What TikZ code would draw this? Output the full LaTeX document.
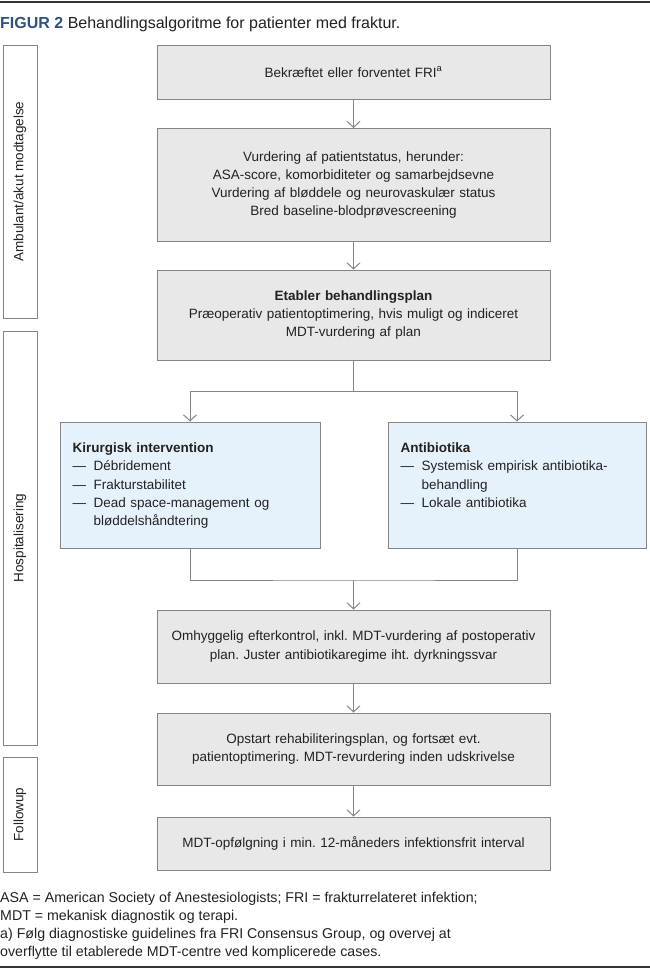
\documentclass[tikz,border=0pt]{standalone}
\usepackage{fontspec}
\setmainfont{Liberation Sans}
\usetikzlibrary{arrows.meta}
\definecolor{boxgray}{HTML}{E8E8E8}
\definecolor{boxblue}{HTML}{E6F2FB}
\definecolor{edgecol}{HTML}{858585}
\definecolor{txtcol}{HTML}{222222}
\definecolor{figblue}{HTML}{2E5283}
\definecolor{rulecol}{HTML}{333333}
\newcommand{\dashitem}{\makebox[21pt][l]{—}}
\frenchspacing
\begin{document}
\begin{tikzpicture}[x=1pt,y=-1pt,
  every node/.style={text=txtcol},
  mainfont/.style={font=\fontsize{13.5}{18.3}\selectfont},
  graybox/.style={mainfont, draw=edgecol, line width=1pt, fill=boxgray, minimum width=393pt, text width=380pt, align=center, inner sep=0pt},
  bluebox/.style={draw=edgecol, line width=1pt, fill=boxblue, inner sep=0pt, minimum height=126pt},
  bluetext/.style={mainfont, anchor=north west, inner sep=0pt, text width=240pt, align=left},
  sidebox/.style={mainfont, draw=edgecol, line width=1pt, rotate=90, minimum height=34pt, inner sep=0pt},
  conn/.style={draw=edgecol, line width=1pt},
  arr/.style={conn, -{Straight Barb[length=6pt,width=13pt]}},
  foot/.style={font=\fontsize{14.2}{18}\selectfont, anchor=base west, inner sep=0pt},
  rulel/.style={draw=rulecol, line width=2.5pt}
]
\useasboundingbox (0,0) rectangle (650,970);
\fill[white] (0,0) rectangle (650,970);
% rules
\coordinate (rtl) at (0,2);
\coordinate (rtr) at (650,2);
\draw[rulel] (rtl) -- (rtr);
\coordinate (rbl) at (0,967);
\coordinate (rbr) at (650,967);
\draw[rulel] (rbl) -- (rbr);
% title
\node[anchor=base west, inner sep=0pt, font=\fontsize{16}{18}\selectfont] (title) at (0,28)
  {{\color{figblue}\bfseries FIGUR 2} Behandlingsalgoritme for patienter med fraktur.};
% side boxes
\node[sidebox, minimum width=273pt] (s1) at (20,181.5) {Ambulant/akut modtagelse};
\node[sidebox, minimum width=414pt] (s2) at (20,538) {Hospitalisering};
\node[sidebox, minimum width=115pt] (s3) at (20,814.5) {Followup};
% main boxes
\node[graybox, minimum height=54pt] (b1) at (353.5,72) {Bekræftet eller forventet FRI\textsuperscript{a}};
\node[graybox, minimum height=113pt] (b2) at (353.5,185) {Vurdering af patientstatus, herunder:\\ASA-score, komorbiditeter og samarbejdsevne\\Vurdering af bløddele og neurovaskulær status\\Bred baseline-blodprøvescreening};
\node[graybox, minimum height=90pt] (b3) at (353.5,315) {\textbf{Etabler behandlingsplan}\\Præoperativ patientoptimering, hvis muligt og indiceret\\MDT-vurdering af plan};
\node[bluebox, minimum width=260pt] (kir) at (190,485) {};
\node[bluebox, minimum width=258pt] (anti) at (517,485) {};
\node[bluetext] (kirtxt) at ([xshift=13pt,yshift=-21pt]kir.north west)
  {\textbf{Kirurgisk intervention}\\\dashitem Débridement\\\dashitem Frakturstabilitet\\\dashitem Dead space-management og\\\hspace*{21pt}bløddelshåndtering};
\node[bluetext] (antitxt) at ([xshift=13pt,yshift=-21pt]anti.north west)
  {\textbf{Antibiotika}\\\dashitem Systemisk empirisk antibiotika-\\\hspace*{21pt}behandling\\\dashitem Lokale antibiotika};
\node[graybox, minimum height=73pt] (b4) at (353.5,646.5) {Omhyggelig efterkontrol, inkl. MDT-vurdering af postoperativ\\plan. Juster antibiotikaregime iht. dyrkningssvar};
\node[graybox, minimum height=72pt] (b5) at (353.5,749) {Opstart rehabiliteringsplan, og fortsæt evt.\\patientoptimering. MDT-revurdering inden udskrivelse};
\node[graybox, minimum height=53pt] (b6) at (353.5,843.5) {MDT-opfølgning i min. 12-måneders infektionsfrit interval};
% connectors
\draw[arr] (b1) -- (b2);
\draw[arr] (b2) -- (b3);
\coordinate (split) at (353.5,391);
\coordinate (merge) at (353.5,580);
\draw[conn] (b3) -- (split);
\draw[arr] (split) -| (kir.north);
\draw[arr] (split) -| (anti.north);
\draw[conn] (kir.south) |- (merge) -| (anti.south);
\draw[arr] (merge) -- (b4);
\draw[arr] (b4) -- (b5);
\draw[arr] (b5) -- (b6);
% footer
\node[foot] (f1) at (0,902) {ASA = American Society of Anestesiologists; FRI = frakturrelateret infektion;};
\node[foot] (f2) at (0,920) {MDT = mekanisk diagnostik og terapi.};
\node[foot] (f3) at (0,938) {a) Følg diagnostiske guidelines fra FRI Consensus Group, og overvej at};
\node[foot] (f4) at (0,956) {overflytte til etablerede MDT-centre ved komplicerede cases.};
\end{tikzpicture}
\end{document}
